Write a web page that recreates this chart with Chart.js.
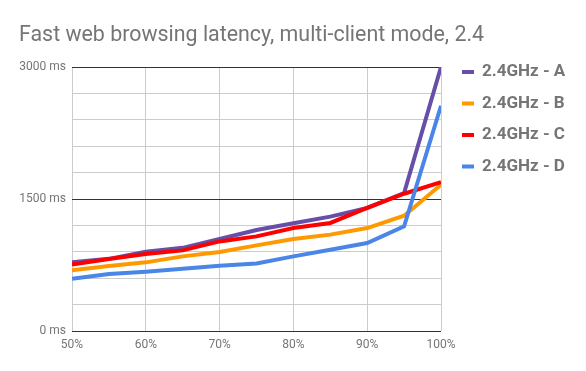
<!DOCTYPE html>
<html>
<head>
<meta charset="utf-8">
<script src="https://cdn.jsdelivr.net/npm/chart.js@4/dist/chart.umd.min.js"></script>
<style>
  html, body { margin: 0; padding: 0; background: #fff; }
  #wrap { width: 586px; height: 371px; position: relative; }
</style>
</head>
<body>
<div id="wrap"><canvas id="latencyChart"></canvas></div>
<script>
// --- Data ---
const percentiles = [50, 55, 60, 65, 70, 75, 80, 85, 90, 95, 100];
const seriesLabels = ['2.4GHz - A', '2.4GHz - B', '2.4GHz - C', '2.4GHz - D'];
const clientA = [780, 820, 900, 945, 1045, 1148, 1225, 1300, 1398, 1568, 3000];
const clientB = [690, 738, 780, 848, 897, 973, 1045, 1095, 1170, 1310, 1662];
const clientC = [755, 818, 875, 916, 1018, 1075, 1170, 1228, 1398, 1560, 1690];
const clientD = [594, 648, 674, 708, 742, 768, 848, 924, 1000, 1189, 2560];
const seriesColors = ['#674ea7', '#ff9900', '#ff0000', '#4a86e8'];
const yTickLabels = [0, 1500, 3000];       // labelled / dark lines
const xTickLabels = [50, 60, 70, 80, 90, 100];

const titleText = 'Fast web browsing latency, multi-client mode, 2.4';
const textGray = '#757575';

// title + legend drawn by a small plugin so they sit where the reference has them
const titleLegendPlugin = {
    id: 'titleLegend',
    afterDraw(chart) {
        const ctx = chart.ctx;
        ctx.save();
        ctx.fillStyle = textGray;
        ctx.font = '21.4px Roboto';
        ctx.textBaseline = 'alphabetic';
        ctx.textAlign = 'left';
        ctx.fillText(titleText, 19, 41);

        ctx.font = 'bold 17px Roboto';
        ctx.textBaseline = 'middle';
        chart.data.datasets.forEach((ds, i) => {
            const y = 72 + i * 31.5;
            ctx.strokeStyle = ds.borderColor;
            ctx.lineWidth = 4;
            ctx.beginPath();
            ctx.moveTo(462, y);
            ctx.lineTo(474, y);
            ctx.stroke();
            ctx.fillStyle = textGray;
            ctx.fillText(ds.label, 482, y);
        });
        ctx.restore();
    }
};

const datasets = [clientA, clientB, clientC, clientD].map((vals, i) => ({
    label: seriesLabels[i],
    data: vals.map((v, j) => ({ x: percentiles[j], y: v })),
    borderColor: seriesColors[i],
    backgroundColor: seriesColors[i],
    borderWidth: 4,
    pointRadius: 0,
    tension: 0,
    order: 4 - i // later series drawn on top, as in the reference
}));

new Chart(document.getElementById('latencyChart'), {
    type: 'line',
    data: { datasets: datasets },
    options: {
        responsive: true,
        maintainAspectRatio: false,
        animation: false,
        layout: { padding: { left: 0, right: 145, top: 67, bottom: 0 } },
        plugins: {
            legend: { display: false },
            title: { display: false },
            tooltip: { enabled: false }
        },
        scales: {
            x: {
                type: 'linear',
                min: 50,
                max: 100,
                border: { display: false },
                grid: {
                    drawTicks: false,
                    color: ctx => (ctx.tick && xTickLabels.includes(ctx.tick.value)) ? '#cccccc' : 'rgba(0,0,0,0)'
                },
                ticks: {
                    stepSize: 5,
                    autoSkip: false,
                    maxRotation: 0,
                    padding: 7,
                    color: textGray,
                    font: { family: 'Roboto', size: 12 },
                    callback: v => xTickLabels.includes(v) ? v + '%' : ''
                },
                afterFit: scale => { scale.height = 40; }
            },
            y: {
                min: 0,
                max: 3000,
                border: { display: false },
                grid: {
                    drawTicks: false,
                    color: ctx => (ctx.tick && yTickLabels.includes(ctx.tick.value)) ? '#333333' : '#cccccc'
                },
                ticks: {
                    stepSize: 300,
                    autoSkip: false,
                    padding: 6,
                    color: textGray,
                    font: { family: 'Roboto', size: 12 },
                    callback: v => yTickLabels.includes(v) ? v + ' ms' : ''
                },
                afterFit: scale => { scale.width = 72; }
            }
        }
    },
    plugins: [titleLegendPlugin]
});
</script>
</body>
</html>
